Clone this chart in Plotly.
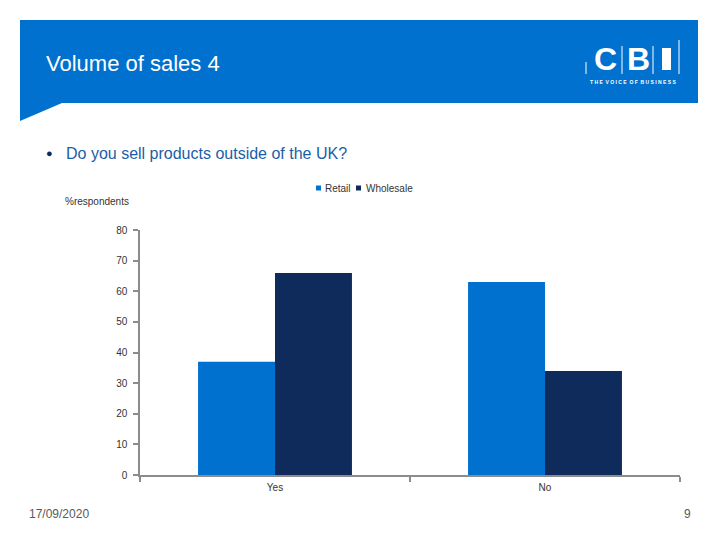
import plotly.graph_objects as go

categories = ["Yes", "No"]
retail = [37, 63]
wholesale = [66, 34]
y_ticks = [0, 10, 20, 30, 40, 50, 60, 70, 80]

# page body has an 8px margin; size figure so it fits the 720x540 window exactly
OFF = 8
W, H = 720 - 2 * OFF, 540 - 2 * OFF
def px(x): return (x - OFF) / W
def py(y): return 1 - (y - OFF) / H

FONT = "Liberation Sans, Arial, sans-serif"
BLUE = "#0071CE"
NAVY = "#0F2B5B"

fig = go.Figure()
fig.add_trace(go.Bar(name="Retail", x=categories, y=retail, marker_color=BLUE,
                     marker_line_width=0, showlegend=False))
fig.add_trace(go.Bar(name="Wholesale", x=categories, y=wholesale, marker_color=NAVY,
                     marker_line_width=0, showlegend=False))

shapes = []
path = "M {} {} L {} {} L {} {} L {} {} L {} {} Z".format(
    px(20), py(20), px(698), py(20), px(698), py(103), px(62), py(103), px(20), py(121))
shapes.append(dict(type="path", path=path, xref="paper", yref="paper",
                   fillcolor=BLUE, line=dict(width=0), layer="below"))
# logo separator lines
for x0, y0, y1 in [(586, 62, 74), (622, 46, 74), (653, 46, 74), (679, 40, 74)]:
    shapes.append(dict(type="line", xref="paper", yref="paper",
                       x0=px(x0), x1=px(x0), y0=py(y0), y1=py(y1),
                       line=dict(color="white", width=1)))
shapes.append(dict(type="rect", xref="paper", yref="paper",
                   x0=px(662), x1=px(671), y0=py(48), y1=py(70),
                   fillcolor="white", line=dict(width=0)))

# legend squares
shapes.append(dict(type="rect", xref="paper", yref="paper",
                   x0=px(316), x1=px(321), y0=py(185.5), y1=py(190.5),
                   fillcolor=BLUE, line=dict(width=0)))
shapes.append(dict(type="rect", xref="paper", yref="paper",
                   x0=px(356), x1=px(361), y0=py(185.5), y1=py(190.5),
                   fillcolor=NAVY, line=dict(width=0)))

def ann(text, x, y, size, color, xanchor="left"):
    return dict(text=text, x=px(x), y=py(y), xref="paper", yref="paper",
                xanchor=xanchor, yanchor="middle", showarrow=False,
                font=dict(family=FONT, size=size, color=color))

annotations = [
    ann("Volume of sales 4", 44, 64, 22, "white"),
    ann("<b>C</b>", 605, 59, 32, "white", xanchor="center"),
    ann("<b>B</b>", 638, 59, 32, "white", xanchor="center"),
    ann("<b>T H E  V O I C E  O F  B U S I N E S S</b>", 633, 81.5, 5, "white", xanchor="center"),
    ann("●", 44, 153, 11, NAVY),
    ann("Do you sell products outside of the UK?", 64, 153, 16, "#1A5EA8"),
    ann("Retail", 323, 188, 10, "#333333"),
    ann("Wholesale", 364, 188, 10, "#333333"),
    ann("%respondents", 63, 201, 10, "#333333"),
    ann("17/09/2020", 27, 514, 12, "#595959"),
    ann("9", 693, 514, 12, "#595959", xanchor="right"),
]

fig.update_layout(
    width=W, height=H,
    margin=dict(l=0, r=0, t=0, b=0),
    paper_bgcolor="white", plot_bgcolor="white",
    barmode="group", bargap=0.43, bargroupgap=0.0,
    showlegend=False,
    xaxis=dict(domain=[px(140), px(680)], showline=True, linecolor="#8c8c8c", linewidth=1.5,
               ticks="outside", tickson="boundaries", ticklen=5, tickcolor="#8c8c8c",
               tickwidth=1.5, automargin=False, ticklabelstandoff=2,
               tickfont=dict(family=FONT, size=10, color="#333333"), showgrid=False),
    yaxis=dict(domain=[py(475), py(230)], range=[0, 80], tickvals=y_ticks,
               showline=True, linecolor="#8c8c8c", linewidth=1.5, ticks="outside",
               ticklen=5, tickcolor="#8c8c8c", tickwidth=1.5, showgrid=False, zeroline=False,
               automargin=False, ticklabelstandoff=4,
               tickfont=dict(family=FONT, size=10, color="#333333")),
    shapes=shapes, annotations=annotations,
)

fig.write_html("out.html")
